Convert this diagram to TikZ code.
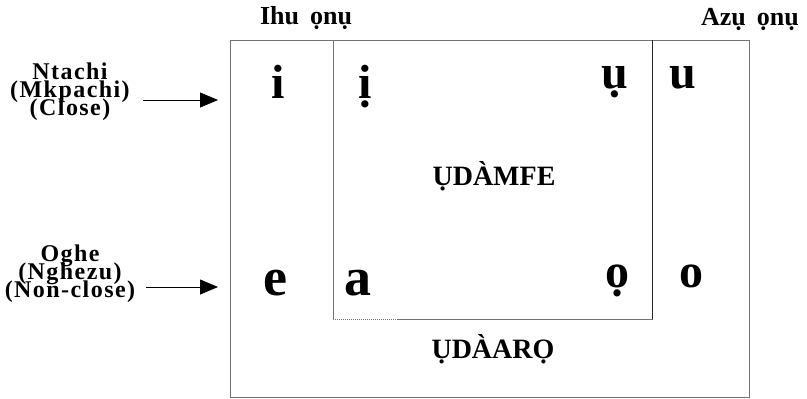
\documentclass[tikz,border=0pt]{standalone}
\usepackage{fontspec}
\setmainfont{Liberation Serif}
\usetikzlibrary{arrows.meta}
\newcommand\tightlines{\lineskiplimit=-100pt\relax}

\begin{document}
\begin{tikzpicture}[x=1pt,y=-1pt,semithick,
    vowel/.style={anchor=base,inner sep=0pt,font=\fontsize{48}{48}\selectfont\bfseries},
    bigvowel/.style={vowel,font=\fontsize{54}{54}\selectfont\bfseries},
    region/.style={anchor=base,inner sep=0pt,font=\fontsize{28}{28}\selectfont\bfseries},
    side/.style={anchor=base,inner sep=0pt,font=\fontsize{26}{26}\selectfont\bfseries},
    height/.style={anchor=base,inner sep=0pt,align=center,
      font=\fontsize{24}{18}\selectfont\bfseries\addfontfeatures{LetterSpace=6}\tightlines},
    pointer/.style={-{Triangle[length=18pt,width=15pt]},line width=0.8pt},
    frame/.style={line width=1pt,black!55}]

  \useasboundingbox (0,0) rectangle (807,399);

  % the two boxes
  \draw[frame] (230,40) rectangle (749,397);
  \draw[frame] (333,40) -- (333,319);
  \draw[line width=1pt,black!85] (652,40) -- (652,319);
  \draw[frame,densely dotted,line width=0.6pt] (333,319) -- (397,319);
  \draw[frame] (397,319) -- (653,319);

  % front and back
  \node[side] (front) at (306,24) {Ihu\hspace{11pt}ọnụ};
  \node[side] (back)  at (750,25) {Azụ\hspace{11pt}ọnụ};

  % vowels
  \node[vowel] (i)  at (278,98) {i};
  \node[vowel] (ib) at (365,98) {ị};
  \node[vowel] (ub) at (615,88) {ụ};
  \node[vowel] (u)  at (683,88) {u};
  \node[bigvowel] (e)  at (275,295) {e};
  \node[bigvowel] (a)  at (358,295) {a};
  \node[vowel] (ob) at (617,287) {ọ};
  \node[vowel] (o)  at (691,287) {o};

  \node[region] (udamfe) at (494,185) {ỤDÀMFE};
  \node[region] (udaaro) at (493,358) {ỤDÀARỌ};

  % heights
  \node[height] (ntachi) at (70,115) {Ntachi\\(Mkpachi)\\(Close)};
  \node[height] (oghe)   at (70,297) {Oghe\\(Nghezu)\\(Non-close)};
  \coordinate (closetip) at (218,100);
  \coordinate (opentip)  at (218,287);
  \draw[pointer,shorten <=13pt] (ntachi.east |- closetip) -- (closetip);
  \draw[pointer,shorten <=11pt] (oghe.east |- opentip) -- (opentip);
\end{tikzpicture}
\end{document}
